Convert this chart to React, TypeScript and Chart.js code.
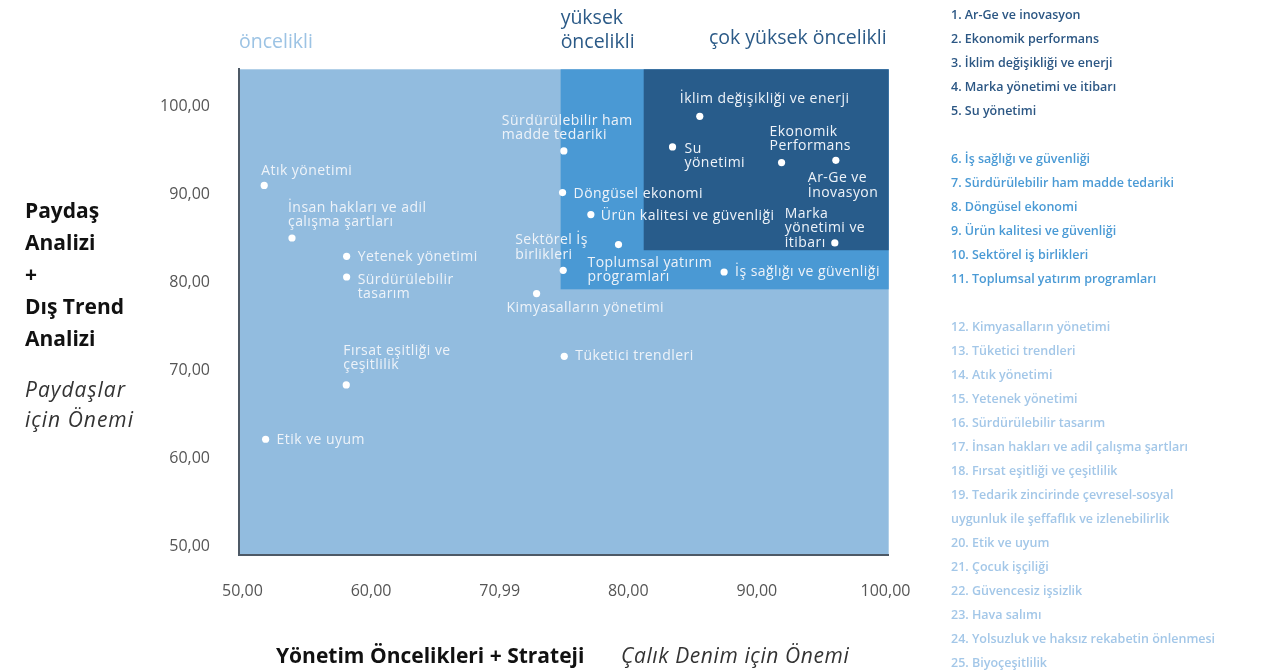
import React, { useEffect, useRef } from "react";
import { Chart, registerables } from "chart.js";

Chart.register(...registerables);

// ---------- DATA ----------
const pointLabels = [
  "Atık yönetimi",
  "İnsan hakları ve adil\nçalışma şartları",
  "Yetenek yönetimi",
  "Sürdürülebilir\ntasarım",
  "Fırsat eşitliği ve\nçeşitlilik",
  "Etik ve uyum",
  "Kimyasalların yönetimi",
  "Tüketici trendleri",
  "Sürdürülebilir ham\nmadde tedariki",
  "Döngüsel ekonomi",
  "Ürün kalitesi ve güvenliği",
  "Sektörel İş\nbirlikleri",
  "Toplumsal yatırım\nprogramları",
  "İş sağlığı ve güvenliği",
  "İklim değişikliği ve enerji",
  "Su\nyönetimi",
  "Ekonomik\nPerformans",
  "Ar-Ge ve\nİnovasyon",
  "Marka\nyönetimi ve\nitibarı",
];
const managementScores = [
  51.69, 53.85, 58.1, 58.1, 58.07, 51.8, 72.87, 75.02, 74.99, 74.89, 77.09, 74.94, 79.24, 87.45, 85.56,
  83.44, 91.92, 96.14, 96.06,
];
const stakeholderScores = [
  91.0, 85.03, 82.95, 80.6, 68.33, 62.16, 78.72, 71.59, 94.92, 90.19, 87.69, 81.36, 84.28, 81.17, 98.86,
  95.38, 93.6, 93.86, 84.47,
];

const xTicks = [50, 60, 70, 80, 90, 100];
const xTickLabels = ["50,00", "60,00", "70,99", "80,00", "90,00", "100,00"];
const yTicks = [50, 60, 70, 80, 90, 100];
const yTickLabels = ["50,00", "60,00", "70,00", "80,00", "90,00", "100,00"];

// priority zones: lower-left corner of each zone (x, y thresholds)
const zoneNames = ["öncelikli", "yüksek\nöncelikli", "çok yüksek öncelikli"];
const zoneXStart = [49.73, 74.74, 81.2];
const zoneYStart = [49.01, 79.2, 83.64];

const yTitleBold = ["Paydaş", "Analizi", "+", "Dış Trend", "Analizi"];
const yTitleItalic = ["Paydaşlar", "için Önemi"];
const xTitleBold = "Yönetim Öncelikleri + Strateji";
const xTitleItalic = "Çalık Denim için Önemi";

const legendVeryHigh = [
  "1. Ar-Ge ve inovasyon",
  "2. Ekonomik performans",
  "3. İklim değişikliği ve enerji",
  "4. Marka yönetimi ve itibarı",
  "5. Su yönetimi",
];
const legendHigh = [
  "6. İş sağlığı ve güvenliği",
  "7. Sürdürülebilir ham madde tedariki",
  "8. Döngüsel ekonomi",
  "9. Ürün kalitesi ve güvenliği",
  "10. Sektörel iş birlikleri",
  "11. Toplumsal yatırım programları",
];
const legendPriority = [
  "12. Kimyasalların yönetimi",
  "13. Tüketici trendleri",
  "14. Atık yönetimi",
  "15. Yetenek yönetimi",
  "16. Sürdürülebilir tasarım",
  "17. İnsan hakları ve adil çalışma şartları",
  "18. Fırsat eşitliği ve çeşitlilik",
  "19. Tedarik zincirinde çevresel-sosyal\nuygunluk ile şeffaflık ve izlenebilirlik",
  "20. Etik ve uyum",
  "21. Çocuk işçiliği",
  "22. Güvencesiz işsizlik",
  "23. Hava salımı",
  "24. Yolsuzluk ve haksız rekabetin önlenmesi",
  "25. Biyoçeşitlilik",
];

// ---------- STYLE ----------
// label offset from its dot: dx = text left, dy = first line centre
const labelOffsets = [
  [-3, -14], [-4, -30], [11, 1], [11, 3], [-3, -34], [11, 1], [-30, 14], [11, 0], [-62, -30], [11, 1],
  [10, 1], [-48, -30], [-31, 18], [11, 0], [-20, -17], [12, 2], [-12, -31], [-28, 18], [-50, -29],
];
const zoneColors = ["#92bcdf", "#4a99d4", "#285c8b"];
const zoneTextColors = ["#9cc3e4", "#2b5a87", "#2b5a87"];
const legendColors = ["#2c5784", "#4a9ad5", "#a3c7e8"];
const FONT = "'Open Sans', 'Noto Sans', sans-serif";

const zonesPlugin = {
  id: "zones",
  beforeDraw(chart: any) {
    const { ctx, chartArea, scales } = chart;
    const xs = scales.x;
    const ys = scales.y;
    ctx.save();
    for (let i = 0; i < zoneColors.length; i++) {
      const left = Math.max(chartArea.left, xs.getPixelForValue(zoneXStart[i]));
      const bottom = Math.min(chartArea.bottom, ys.getPixelForValue(zoneYStart[i]));
      ctx.fillStyle = zoneColors[i];
      ctx.fillRect(left, chartArea.top, chartArea.right - left, bottom - chartArea.top);
    }
    ctx.restore();
  },
};

const pointLabelPlugin = {
  id: "pointLabels",
  afterDatasetsDraw(chart: any) {
    const { ctx } = chart;
    const meta = chart.getDatasetMeta(0);
    ctx.save();
    ctx.fillStyle = "#eef3f9";
    ctx.font = `14px ${FONT}`;
    (ctx as any).letterSpacing = "0.45px";
    ctx.textAlign = "left";
    ctx.textBaseline = "middle";
    meta.data.forEach((el: any, i: number) => {
      const [dx, dy] = labelOffsets[i];
      const lines = pointLabels[i].split("\n");
      lines.forEach((ln, k) => {
        ctx.fillText(ln, el.x + dx, el.y + dy + k * 14.4);
      });
    });
    ctx.restore();
  },
};

const textPlugin = {
  id: "texts",
  afterDraw(chart: any) {
    const { ctx, scales } = chart;
    ctx.save();
    ctx.textBaseline = "middle";
    ctx.textAlign = "left";
    // zone captions
    ctx.font = `19.5px ${FONT}`;
    ctx.fillStyle = zoneTextColors[0];
    ctx.fillText(zoneNames[0], scales.x.getPixelForValue(zoneXStart[0]), 42);
    ctx.fillStyle = zoneTextColors[1];
    zoneNames[1].split("\n").forEach((ln, k) => {
      ctx.fillText(ln, scales.x.getPixelForValue(zoneXStart[1]), 18 + k * 24);
    });
    ctx.fillStyle = zoneTextColors[2];
    ctx.textAlign = "right";
    ctx.fillText(zoneNames[2], chart.chartArea.right - 2, 38);
    ctx.textAlign = "left";

    // y title
    ctx.fillStyle = "#111";
    ctx.font = `700 21px ${FONT}`;
    yTitleBold.forEach((ln, k) => ctx.fillText(ln, 25, 212 + k * 32));
    ctx.fillStyle = "#333";
    ctx.font = `italic 21px ${FONT}`;
    (ctx as any).letterSpacing = "1px";
    yTitleItalic.forEach((ln, k) => ctx.fillText(ln, 25, 391 + k * 30));
    (ctx as any).letterSpacing = "0px";

    // x title
    ctx.fillStyle = "#111";
    ctx.font = `700 21px ${FONT}`;
    ctx.fillText(xTitleBold, 276, 657);
    ctx.fillStyle = "#333";
    ctx.font = `italic 21px ${FONT}`;
    (ctx as any).letterSpacing = "0.6px";
    ctx.fillText(xTitleItalic, 621, 657);
    (ctx as any).letterSpacing = "0px";

    // legend
    ctx.font = `600 12.5px ${FONT}`;
    let row = 0;
    const groups = [legendVeryHigh, legendHigh, legendPriority];
    groups.forEach((g, gi) => {
      ctx.fillStyle = legendColors[gi];
      g.forEach((item) => {
        item.split("\n").forEach((ln) => {
          ctx.fillText(ln, 951, 15 + row * 24);
          row++;
        });
      });
      row++;
    });
    ctx.restore();
  },
};

export default function App() {
  const ref = useRef<HTMLCanvasElement>(null);
  useEffect(() => {
    const canvas = ref.current!;
    const chart = new Chart(canvas, {
      type: "scatter",
      data: {
        datasets: [
          {
            data: managementScores.map((x, i) => ({ x, y: stakeholderScores[i] })),
            pointRadius: 3.6,
            pointHoverRadius: 3.6,
            pointBackgroundColor: "#ffffff",
            pointBorderWidth: 0,
          },
        ],
      },
      options: {
        animation: false,
        responsive: true,
        maintainAspectRatio: false,
        layout: { padding: { left: 139, right: 383.3, top: 69.3, bottom: 57 } },
        plugins: { legend: { display: false }, tooltip: { enabled: false } },
        scales: {
          x: {
            type: "linear",
            min: 49.73,
            max: 100.25,
            afterFit: (s: any) => {
              s.height = 60;
            },
            afterBuildTicks: (s: any) => {
              s.ticks = xTicks.map((v) => ({ value: v }));
            },
            ticks: {
              callback: (v: any) => xTickLabels[xTicks.indexOf(Number(v))],
              padding: 27,
              color: "#555",
              font: { family: FONT, size: 16 },
              maxRotation: 0,
              autoSkip: false,
            },
            grid: { display: false, drawTicks: false },
            border: { display: true, color: "#4d5966", width: 2 },
          },
          y: {
            type: "linear",
            min: 49.01,
            max: 104.2,
            afterFit: (s: any) => {
              s.width = 100;
            },
            afterBuildTicks: (s: any) => {
              s.ticks = yTicks.map((v) => ({ value: v }));
            },
            ticks: {
              callback: (v: any) => yTickLabels[yTicks.indexOf(Number(v))],
              padding: 29,
              color: "#555",
              font: { family: FONT, size: 16 },
              autoSkip: false,
            },
            grid: { display: false, drawTicks: false },
            border: { display: true, color: "#4d5966", width: 2 },
          },
        },
      },
      plugins: [zonesPlugin, pointLabelPlugin, textPlugin],
    });
    return () => chart.destroy();
  }, []);
  return (
    <div style={{ position: "fixed", left: 0, top: 0, width: 1272, height: 672, background: "#fff" }}>
      <canvas ref={ref} />
    </div>
  );
}
